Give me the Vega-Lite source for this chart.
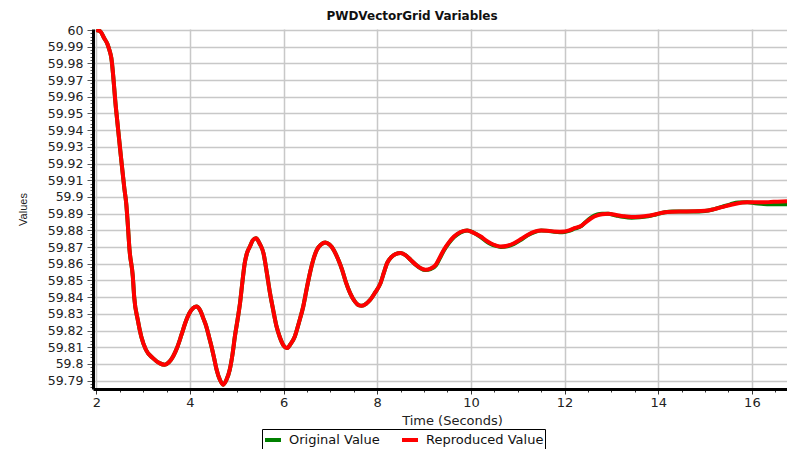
{
  "$schema": "https://vega.github.io/schema/vega-lite/v6.json",
  "autosize": {"type": "none"},
  "padding": {"left": 93, "top": 29, "right": 0, "bottom": 60},
  "width": 694,
  "height": 360,
  "background": "white",
  "config": {"view": {"stroke": null}},
  "title": {"text": "PWDVectorGrid Variables", "font": "DejaVu Sans", "fontSize": 12, "fontWeight": "bold", "color": "#111", "anchor": "middle", "dx": -28, "offset": 1},
  "data": {"values": [
    {"t": 2.00, "Original Value": 60.0000, "Reproduced Value": 60.0000},
    {"t": 2.08, "Original Value": 59.9993, "Reproduced Value": 59.9993},
    {"t": 2.17, "Original Value": 59.9950, "Reproduced Value": 59.9950},
    {"t": 2.24, "Original Value": 59.9915, "Reproduced Value": 59.9915},
    {"t": 2.28, "Original Value": 59.9880, "Reproduced Value": 59.9880},
    {"t": 2.32, "Original Value": 59.9835, "Reproduced Value": 59.9835},
    {"t": 2.42, "Original Value": 59.9531, "Reproduced Value": 59.9531},
    {"t": 2.53, "Original Value": 59.9232, "Reproduced Value": 59.9232},
    {"t": 2.60, "Original Value": 59.9050, "Reproduced Value": 59.9050},
    {"t": 2.64, "Original Value": 59.8960, "Reproduced Value": 59.8960},
    {"t": 2.67, "Original Value": 59.8850, "Reproduced Value": 59.8850},
    {"t": 2.71, "Original Value": 59.8683, "Reproduced Value": 59.8683},
    {"t": 2.78, "Original Value": 59.8524, "Reproduced Value": 59.8524},
    {"t": 2.81, "Original Value": 59.8400, "Reproduced Value": 59.8400},
    {"t": 2.885, "Original Value": 59.8265, "Reproduced Value": 59.8265},
    {"t": 2.96, "Original Value": 59.8165, "Reproduced Value": 59.8165},
    {"t": 3.06, "Original Value": 59.8085, "Reproduced Value": 59.8085},
    {"t": 3.21, "Original Value": 59.8035, "Reproduced Value": 59.8035},
    {"t": 3.35, "Original Value": 59.8005, "Reproduced Value": 59.8005},
    {"t": 3.46, "Original Value": 59.7995, "Reproduced Value": 59.7995},
    {"t": 3.55, "Original Value": 59.8010, "Reproduced Value": 59.8010},
    {"t": 3.64, "Original Value": 59.8045, "Reproduced Value": 59.8045},
    {"t": 3.73, "Original Value": 59.8100, "Reproduced Value": 59.8100},
    {"t": 3.82, "Original Value": 59.8175, "Reproduced Value": 59.8175},
    {"t": 3.90, "Original Value": 59.8245, "Reproduced Value": 59.8245},
    {"t": 3.99, "Original Value": 59.8305, "Reproduced Value": 59.8305},
    {"t": 4.07, "Original Value": 59.8335, "Reproduced Value": 59.8335},
    {"t": 4.14, "Original Value": 59.8344, "Reproduced Value": 59.8344},
    {"t": 4.22, "Original Value": 59.8320, "Reproduced Value": 59.8320},
    {"t": 4.29, "Original Value": 59.8270, "Reproduced Value": 59.8270},
    {"t": 4.35, "Original Value": 59.8224, "Reproduced Value": 59.8224},
    {"t": 4.41, "Original Value": 59.8160, "Reproduced Value": 59.8160},
    {"t": 4.46, "Original Value": 59.8105, "Reproduced Value": 59.8105},
    {"t": 4.52, "Original Value": 59.8030, "Reproduced Value": 59.8030},
    {"t": 4.57, "Original Value": 59.7965, "Reproduced Value": 59.7965},
    {"t": 4.64, "Original Value": 59.7905, "Reproduced Value": 59.7905},
    {"t": 4.71, "Original Value": 59.7876, "Reproduced Value": 59.7876},
    {"t": 4.78, "Original Value": 59.7905, "Reproduced Value": 59.7905},
    {"t": 4.85, "Original Value": 59.7965, "Reproduced Value": 59.7965},
    {"t": 4.91, "Original Value": 59.8060, "Reproduced Value": 59.8060},
    {"t": 4.96, "Original Value": 59.8165, "Reproduced Value": 59.8165},
    {"t": 5.02, "Original Value": 59.8270, "Reproduced Value": 59.8270},
    {"t": 5.07, "Original Value": 59.8365, "Reproduced Value": 59.8365},
    {"t": 5.12, "Original Value": 59.8490, "Reproduced Value": 59.8490},
    {"t": 5.17, "Original Value": 59.8604, "Reproduced Value": 59.8604},
    {"t": 5.22, "Original Value": 59.8665, "Reproduced Value": 59.8665},
    {"t": 5.28, "Original Value": 59.8703, "Reproduced Value": 59.8703},
    {"t": 5.34, "Original Value": 59.8740, "Reproduced Value": 59.8740},
    {"t": 5.41, "Original Value": 59.8753, "Reproduced Value": 59.8753},
    {"t": 5.49, "Original Value": 59.8720, "Reproduced Value": 59.8720},
    {"t": 5.57, "Original Value": 59.8664, "Reproduced Value": 59.8664},
    {"t": 5.64, "Original Value": 59.8550, "Reproduced Value": 59.8550},
    {"t": 5.71, "Original Value": 59.8424, "Reproduced Value": 59.8424},
    {"t": 5.78, "Original Value": 59.8320, "Reproduced Value": 59.8320},
    {"t": 5.85, "Original Value": 59.8224, "Reproduced Value": 59.8224},
    {"t": 5.92, "Original Value": 59.8160, "Reproduced Value": 59.8160},
    {"t": 6.00, "Original Value": 59.8110, "Reproduced Value": 59.8110},
    {"t": 6.07, "Original Value": 59.8095, "Reproduced Value": 59.8095},
    {"t": 6.15, "Original Value": 59.8120, "Reproduced Value": 59.8120},
    {"t": 6.24, "Original Value": 59.8165, "Reproduced Value": 59.8165},
    {"t": 6.33, "Original Value": 59.8250, "Reproduced Value": 59.8250},
    {"t": 6.42, "Original Value": 59.8344, "Reproduced Value": 59.8344},
    {"t": 6.50, "Original Value": 59.8460, "Reproduced Value": 59.8460},
    {"t": 6.57, "Original Value": 59.8554, "Reproduced Value": 59.8554},
    {"t": 6.64, "Original Value": 59.8630, "Reproduced Value": 59.8630},
    {"t": 6.71, "Original Value": 59.8683, "Reproduced Value": 59.8683},
    {"t": 6.80, "Original Value": 59.8715, "Reproduced Value": 59.8715},
    {"t": 6.89, "Original Value": 59.8727, "Reproduced Value": 59.8727},
    {"t": 6.98, "Original Value": 59.8715, "Reproduced Value": 59.8715},
    {"t": 7.07, "Original Value": 59.8683, "Reproduced Value": 59.8683},
    {"t": 7.16, "Original Value": 59.8630, "Reproduced Value": 59.8630},
    {"t": 7.25, "Original Value": 59.8564, "Reproduced Value": 59.8564},
    {"t": 7.33, "Original Value": 59.8490, "Reproduced Value": 59.8490},
    {"t": 7.42, "Original Value": 59.8424, "Reproduced Value": 59.8424},
    {"t": 7.52, "Original Value": 59.8375, "Reproduced Value": 59.8375},
    {"t": 7.60, "Original Value": 59.8352, "Reproduced Value": 59.8352},
    {"t": 7.67, "Original Value": 59.8348, "Reproduced Value": 59.8348},
    {"t": 7.76, "Original Value": 59.8360, "Reproduced Value": 59.8360},
    {"t": 7.85, "Original Value": 59.8384, "Reproduced Value": 59.8384},
    {"t": 7.96, "Original Value": 59.8430, "Reproduced Value": 59.8430},
    {"t": 8.07, "Original Value": 59.8484, "Reproduced Value": 59.8484},
    {"t": 8.14, "Original Value": 59.8545, "Reproduced Value": 59.8545},
    {"t": 8.21, "Original Value": 59.8604, "Reproduced Value": 59.8604},
    {"t": 8.30, "Original Value": 59.8640, "Reproduced Value": 59.8640},
    {"t": 8.39, "Original Value": 59.8658, "Reproduced Value": 59.8658},
    {"t": 8.50, "Original Value": 59.8664, "Reproduced Value": 59.8664},
    {"t": 8.61, "Original Value": 59.8650, "Reproduced Value": 59.8650},
    {"t": 8.71, "Original Value": 59.8624, "Reproduced Value": 59.8624},
    {"t": 8.82, "Original Value": 59.8595, "Reproduced Value": 59.8595},
    {"t": 8.92, "Original Value": 59.8574, "Reproduced Value": 59.8574},
    {"t": 9.03, "Original Value": 59.8562, "Reproduced Value": 59.8564},
    {"t": 9.14, "Original Value": 59.8568, "Reproduced Value": 59.8572},
    {"t": 9.25, "Original Value": 59.8589, "Reproduced Value": 59.8594},
    {"t": 9.33, "Original Value": 59.8630, "Reproduced Value": 59.8635},
    {"t": 9.42, "Original Value": 59.8678, "Reproduced Value": 59.8683},
    {"t": 9.53, "Original Value": 59.8724, "Reproduced Value": 59.8728},
    {"t": 9.64, "Original Value": 59.8760, "Reproduced Value": 59.8763},
    {"t": 9.78, "Original Value": 59.8788, "Reproduced Value": 59.8790},
    {"t": 9.92, "Original Value": 59.8799, "Reproduced Value": 59.8799},
    {"t": 10.06, "Original Value": 59.8786, "Reproduced Value": 59.8785},
    {"t": 10.21, "Original Value": 59.8760, "Reproduced Value": 59.8763},
    {"t": 10.32, "Original Value": 59.8736, "Reproduced Value": 59.8740},
    {"t": 10.42, "Original Value": 59.8719, "Reproduced Value": 59.8723},
    {"t": 10.53, "Original Value": 59.8707, "Reproduced Value": 59.8710},
    {"t": 10.64, "Original Value": 59.8701, "Reproduced Value": 59.8703},
    {"t": 10.78, "Original Value": 59.8705, "Reproduced Value": 59.8708},
    {"t": 10.92, "Original Value": 59.8719, "Reproduced Value": 59.8723},
    {"t": 11.07, "Original Value": 59.8744, "Reproduced Value": 59.8748},
    {"t": 11.21, "Original Value": 59.8770, "Reproduced Value": 59.8773},
    {"t": 11.36, "Original Value": 59.8790, "Reproduced Value": 59.8792},
    {"t": 11.50, "Original Value": 59.8799, "Reproduced Value": 59.8799},
    {"t": 11.64, "Original Value": 59.8797, "Reproduced Value": 59.8798},
    {"t": 11.78, "Original Value": 59.8791, "Reproduced Value": 59.8793},
    {"t": 11.90, "Original Value": 59.8789, "Reproduced Value": 59.8792},
    {"t": 12.00, "Original Value": 59.8790, "Reproduced Value": 59.8793},
    {"t": 12.10, "Original Value": 59.8797, "Reproduced Value": 59.8800},
    {"t": 12.21, "Original Value": 59.8810, "Reproduced Value": 59.8813},
    {"t": 12.36, "Original Value": 59.8826, "Reproduced Value": 59.8828},
    {"t": 12.43, "Original Value": 59.8845, "Reproduced Value": 59.8843},
    {"t": 12.57, "Original Value": 59.8878, "Reproduced Value": 59.8873},
    {"t": 12.70, "Original Value": 59.8895, "Reproduced Value": 59.8890},
    {"t": 12.80, "Original Value": 59.8899, "Reproduced Value": 59.8896},
    {"t": 12.93, "Original Value": 59.8899, "Reproduced Value": 59.8899},
    {"t": 13.10, "Original Value": 59.8889, "Reproduced Value": 59.8892},
    {"t": 13.25, "Original Value": 59.8881, "Reproduced Value": 59.8885},
    {"t": 13.43, "Original Value": 59.8876, "Reproduced Value": 59.8880},
    {"t": 13.60, "Original Value": 59.8878, "Reproduced Value": 59.8882},
    {"t": 13.78, "Original Value": 59.8884, "Reproduced Value": 59.8887},
    {"t": 13.95, "Original Value": 59.8895, "Reproduced Value": 59.8897},
    {"t": 14.14, "Original Value": 59.8909, "Reproduced Value": 59.8909},
    {"t": 14.32, "Original Value": 59.8913, "Reproduced Value": 59.8912},
    {"t": 14.50, "Original Value": 59.8913, "Reproduced Value": 59.8913},
    {"t": 14.75, "Original Value": 59.8913, "Reproduced Value": 59.8914},
    {"t": 15.00, "Original Value": 59.8916, "Reproduced Value": 59.8917},
    {"t": 15.18, "Original Value": 59.8926, "Reproduced Value": 59.8926},
    {"t": 15.36, "Original Value": 59.8941, "Reproduced Value": 59.8939},
    {"t": 15.54, "Original Value": 59.8956, "Reproduced Value": 59.8952},
    {"t": 15.71, "Original Value": 59.8967, "Reproduced Value": 59.8963},
    {"t": 15.90, "Original Value": 59.8968, "Reproduced Value": 59.8968},
    {"t": 16.07, "Original Value": 59.8963, "Reproduced Value": 59.8969},
    {"t": 16.25, "Original Value": 59.8958, "Reproduced Value": 59.8968},
    {"t": 16.40, "Original Value": 59.8957, "Reproduced Value": 59.8970},
    {"t": 16.55, "Original Value": 59.8957, "Reproduced Value": 59.8972},
    {"t": 16.75, "Original Value": 59.8957, "Reproduced Value": 59.8974}
  ]},
  "transform": [{"fold": ["Original Value", "Reproduced Value"], "as": ["series", "value"]}],
  "mark": {"type": "line", "strokeWidth": 4, "interpolate": "monotone", "clip": true},
  "encoding": {
    "x": {
      "field": "t", "type": "quantitative",
      "scale": {"domain": [1.93, 16.75], "nice": false, "zero": false},
      "axis": {
        "title": "Time (Seconds)",
        "values": [2,2.5,3,3.5,4,4.5,5,5.5,6,6.5,7,7.5,8,8.5,9,9.5,10,10.5,11,11.5,12,12.5,13,13.5,14,14.5,15,15.5,16,16.5],
        "labelExpr": "datum.value % 2 == 0 ? '' + datum.value : ''",
        "labelFont": "DejaVu Sans", "labelFontSize": 13, "labelColor": "#222", "labelPadding": 2, "labelDx": 3,
        "labelFlush": false, "labelOverlap": false,
        "domainColor": "black", "domainWidth": 3,
        "tickColor": "#333", "tickWidth": 1,
        "tickSize": {"condition": {"test": "datum.value % 2 == 0", "value": 5}, "value": 3},
        "grid": true, "gridColor": "#c8c8c8", "gridWidth": 1.5,
        "gridOpacity": {"condition": {"test": "datum.value % 2 == 0", "value": 1}, "value": 0},
        "titleFont": "DejaVu Sans", "titleFontSize": 13, "titleFontWeight": "normal", "titleColor": "#222",
        "titleX": 359, "titleY": 25
      }
    },
    "y": {
      "field": "value", "type": "quantitative",
      "scale": {"domain": [59.785, 60.0006], "nice": false, "zero": false},
      "axis": {
        "title": "Values",
        "values": [59.786,59.788,59.79,59.792,59.794,59.796,59.798,59.8,59.802,59.804,59.806,59.808,59.81,59.812,59.814,59.816,59.818,59.82,59.822,59.824,59.826,59.828,59.83,59.832,59.834,59.836,59.838,59.84,59.842,59.844,59.846,59.848,59.85,59.852,59.854,59.856,59.858,59.86,59.862,59.864,59.866,59.868,59.87,59.872,59.874,59.876,59.878,59.88,59.882,59.884,59.886,59.888,59.89,59.892,59.894,59.896,59.898,59.9,59.902,59.904,59.906,59.908,59.91,59.912,59.914,59.916,59.918,59.92,59.922,59.924,59.926,59.928,59.93,59.932,59.934,59.936,59.938,59.94,59.942,59.944,59.946,59.948,59.95,59.952,59.954,59.956,59.958,59.96,59.962,59.964,59.966,59.968,59.97,59.972,59.974,59.976,59.978,59.98,59.982,59.984,59.986,59.988,59.99,59.992,59.994,59.996,59.998,60],
        "labelExpr": "abs(datum.value*100 - round(datum.value*100)) < 0.05 ? '' + datum.value : ''",
        "labelFont": "DejaVu Sans", "labelFontSize": 12.5, "labelColor": "#222", "labelPadding": 4,
        "labelFlush": false, "labelOverlap": false,
        "domainColor": "black", "domainWidth": 3,
        "tickColor": "#555", "tickWidth": 1,
        "tickSize": {"condition": {"test": "abs(datum.value*100 - round(datum.value*100)) < 0.05", "value": 6}, "value": 3},
        "grid": true, "gridColor": "#c8c8c8", "gridWidth": 1.5,
        "gridOpacity": {"condition": {"test": "abs(datum.value*100 - round(datum.value*100)) < 0.05", "value": 1}, "value": 0},
        "titleFont": "Liberation Sans", "titleFontSize": 11, "titleFontWeight": "normal", "titleColor": "#222",
        "titleAngle": 270, "titleBaseline": "bottom", "titleX": -65, "titleY": 180
      }
    },
    "color": {
      "field": "series", "type": "nominal",
      "scale": {"domain": ["Original Value", "Reproduced Value"], "range": ["#008000", "#ff0000"]},
      "legend": {
        "title": null, "orient": "none", "legendX": 169, "legendY": 400, "direction": "horizontal",
        "strokeColor": "black", "fillColor": "white", "padding": 1,
        "symbolType": "stroke", "symbolStrokeWidth": 4, "symbolSize": 256,
        "labelFont": "DejaVu Sans", "labelFontSize": 13, "labelColor": "#111", "labelOffset": 6, "columnPadding": 14
      }
    }
  }
}
